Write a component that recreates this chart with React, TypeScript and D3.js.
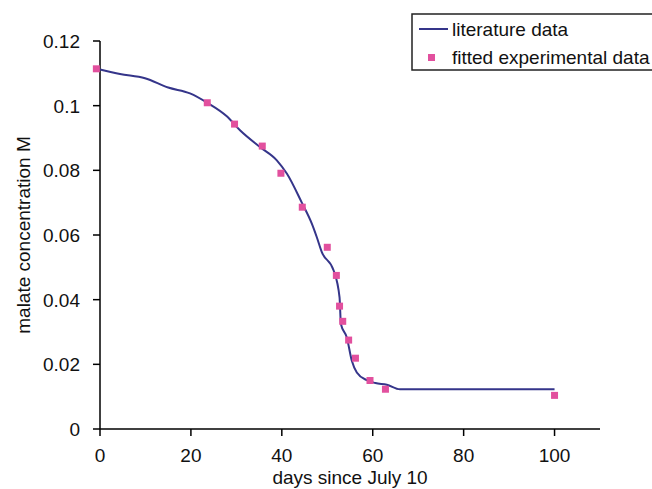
import React from "react";
import * as d3 from "d3";

const litDays = [0, 4.4, 9.9, 15, 19.8, 23.6, 27.9, 30.8, 35.2, 38.9, 41.1, 44.4, 46.6, 47.7, 48.8, 51.4, 52.7, 53, 54.3, 55.4, 56.5, 58.7, 60.6, 63.1, 66, 100];
const litVals = [0.1112, 0.1098, 0.1085, 0.1056, 0.1038, 0.1009, 0.0967, 0.0924, 0.0872, 0.0831, 0.079, 0.0700, 0.0635, 0.0593, 0.0547, 0.049, 0.0407, 0.0325, 0.0283, 0.0211, 0.0175, 0.0151, 0.0142, 0.0137, 0.0123, 0.0123];

const fitDays = [-0.8, 23.6, 29.6, 35.7, 39.8, 44.5, 50, 52, 52.7, 53.4, 54.7, 56.2, 59.4, 62.8, 100];
const fitVals = [0.1114, 0.1009, 0.0943, 0.0875, 0.0791, 0.0686, 0.0562, 0.0475, 0.038, 0.0333, 0.0275, 0.0219, 0.015, 0.0123, 0.0104];

const xTicks = [0, 20, 40, 60, 80, 100];
const yTicks = [0, 0.02, 0.04, 0.06, 0.08, 0.1, 0.12];
const yTickLabels = ["0", "0.02", "0.04", "0.06", "0.08", "0.1", "0.12"];

const legendLabels = ["literature data", "fitted experimental data"];

const W = 652;
const H = 489;
const lineColor = "#35358a";
const pointColor = "#e2509e";
const font = "Liberation Sans, Arial, sans-serif";
const fs = 19;

export default function App() {
  const x = d3.scaleLinear().domain([0, 110]).range([100, 600]);
  const y = d3.scaleLinear().domain([0, 0.12]).range([429, 41]);

  const line = d3
    .line<number>()
    .x((d, i) => x(litDays[i]))
    .y((d) => y(d))
    .curve(d3.curveMonotoneX);

  const x0 = x(0);
  const y0 = y(0);

  return (
    <svg
      width={W}
      height={H}
      style={{ position: "absolute", left: 0, top: 0, background: "#fff" }}
      fontFamily={font}
    >
      {/* axes */}
      <line x1={x0} x2={x(110)} y1={y0} y2={y0} stroke="#000" strokeWidth={1.5} />
      <line x1={x0} x2={x0} y1={y(0.12)} y2={y0} stroke="#000" strokeWidth={1.5} />
      {xTicks.map((t) => (
        <g key={"xt" + t}>
          <line x1={x(t)} x2={x(t)} y1={y0} y2={y0 + 7} stroke="#000" strokeWidth={1.5} />
          <text x={x(t)} y={y0 + 33} textAnchor="middle" fontSize={fs} fill="#111">
            {t}
          </text>
        </g>
      ))}
      {yTicks.map((t, i) => (
        <g key={"yt" + t}>
          <line x1={x0 - 7} x2={x0} y1={y(t)} y2={y(t)} stroke="#000" strokeWidth={1.5} />
          <text x={x0 - 20} y={y(t) + 7} textAnchor="end" fontSize={fs} fill="#111">
            {yTickLabels[i]}
          </text>
        </g>
      ))}
      <text x={350} y={484} textAnchor="middle" fontSize={fs} fill="#111">
        days since July 10
      </text>
      <text
        transform={`translate(30, ${(y(0) + y(0.12)) / 2}) rotate(-90)`}
        textAnchor="middle"
        fontSize={fs}
        fill="#111"
      >
        malate concentration M
      </text>

      {/* series */}
      <path d={line(litVals) || ""} fill="none" stroke={lineColor} strokeWidth={2} />
      {fitVals.map((v, i) => (
        <rect
          key={"p" + i}
          x={x(fitDays[i]) - 3.5}
          y={y(v) - 3.5}
          width={7}
          height={7}
          fill={pointColor}
        />
      ))}

      {/* legend */}
      <rect x={412} y={14} width={260} height={56} fill="#fff" stroke="#222" strokeWidth={1.5} />
      <line x1={419} x2={448} y1={29} y2={29} stroke={lineColor} strokeWidth={2} />
      <text x={452} y={36} fontSize={fs} fill="#111">
        {legendLabels[0]}
      </text>
      <rect x={428} y={54} width={7} height={7} fill={pointColor} />
      <text x={452} y={64} fontSize={fs} fill="#111">
        {legendLabels[1]}
      </text>
    </svg>
  );
}
